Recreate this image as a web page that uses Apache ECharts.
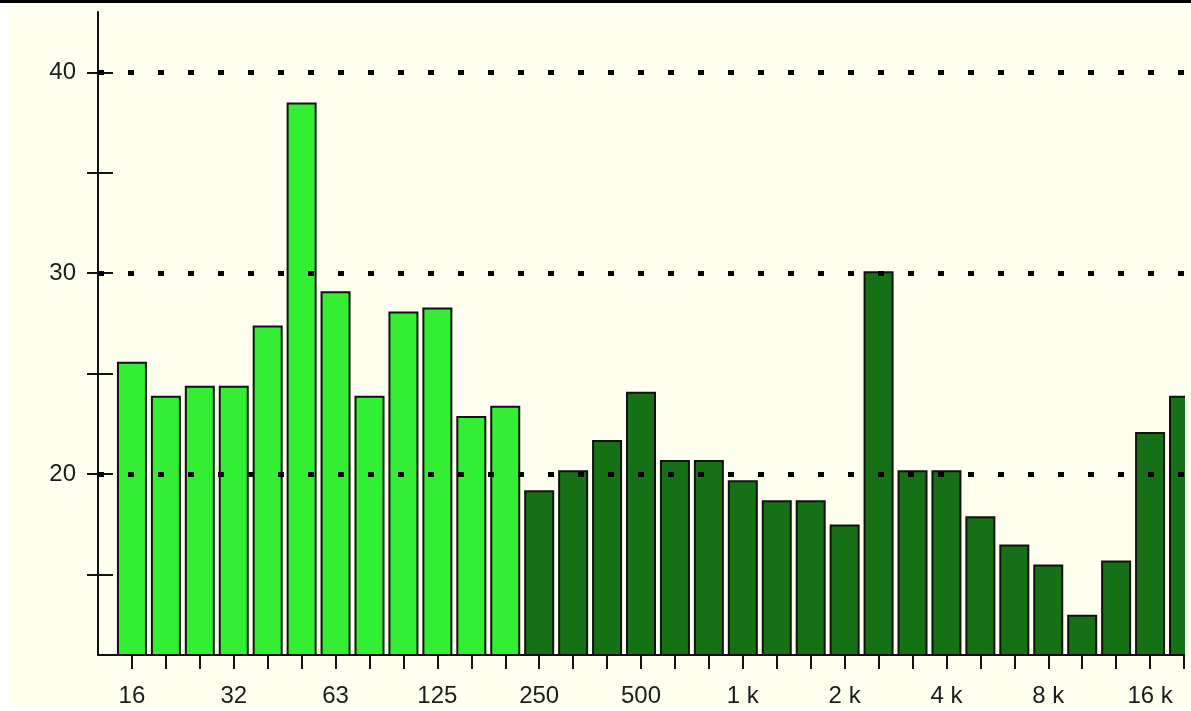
<!DOCTYPE html>
<html>
<head>
<meta charset="utf-8">
<style>
  html, body { margin: 0; padding: 0; }
  body { width: 1191px; height: 711px; position: relative; overflow: hidden; background: #fffff0; }
  /* page frame: black rule on top, white margins at left and bottom */
  .rule-top { position: absolute; left: 0; top: 0; width: 1191px; height: 2.5px; background: #000; z-index: 2; }
  .edge-left { position: absolute; left: 0; top: 0; width: 9px; height: 711px; background: #fff; z-index: 1; }
  .edge-bottom { position: absolute; left: 0; top: 708px; width: 1191px; height: 3px; background: #fff; z-index: 1; }
  /* the plot stops at the last band's centre, so the chart canvas is narrower than the page */
  #chart { position: absolute; left: 0; top: 0; width: 1185px; height: 711px; }
</style>
<script src="https://cdn.jsdelivr.net/npm/echarts@6/dist/echarts.min.js"></script>
</head>
<body>
<div id="chart"></div>
<div class="edge-left"></div>
<div class="edge-bottom"></div>
<div class="rule-top"></div>
<script>
// 1/3-octave band centres, 16 Hz .. 20 kHz
const bands = ['16', '20', '25', '32', '40', '50', '63', '80', '100', '125', '160', '200',
               '250', '315', '400', '500', '630', '800', '1 k', '1.25 k', '1.6 k', '2 k', '2.5 k', '3.15 k',
               '4 k', '5 k', '6.3 k', '8 k', '10 k', '12.5 k', '16 k', '20 k'];

// band levels
const levels = [25.6, 23.9, 24.4, 24.4, 27.4, 38.5, 29.1, 23.9, 28.1, 28.3, 22.9, 23.4,
                19.2, 20.2, 21.7, 24.1, 20.7, 20.7, 19.7, 18.7, 18.7, 17.5, 30.1, 20.2,
                20.2, 17.9, 16.5, 15.5, 13.0, 15.7, 22.1, 23.9];

// octave labels along the frequency axis (every third band)
const tickLabels = ['16', '32', '63', '125', '250', '500', '1 k', '2 k', '4 k', '8 k', '16 k'];

// level axis
const yMin = 11, yMax = 43;
const yLabelValues = [20, 30, 40];
const yTickValues = [15, 20, 25, 30, 35, 40];
const gridLevels = [20, 30, 40];

// bands below 250 Hz use the light fill
const lowBandCount = 12;

const LABEL_FONT = { fontFamily: 'Liberation Sans, Arial, sans-serif', fontSize: 24, color: '#1c1c1c' };

const bandIdx = bands.map((_, i) => i);
const labelIdx = tickLabels.map((_, k) => k * 3);

const chart = echarts.init(document.getElementById('chart'), null, { renderer: 'canvas' });

chart.setOption({
  animation: false,
  backgroundColor: 'transparent',
  grid: { left: 98, right: 1, top: 12, bottom: 56, containLabel: false },
  xAxis: {
    type: 'value',
    min: -1,
    max: bands.length - 1,
    axisLine: { show: true, lineStyle: { color: '#111', width: 2 } },
    axisTick: { show: true, customValues: bandIdx, length: 14, lineStyle: { color: '#111', width: 2 } },
    axisLabel: Object.assign({
      customValues: labelIdx,
      margin: 29,
      formatter: v => tickLabels[Math.round(v) / 3] || ''
    }, LABEL_FONT),
    splitLine: { show: false }
  },
  yAxis: [
    {
      type: 'value',
      min: yMin,
      max: yMax,
      axisLine: { show: true, onZero: false, lineStyle: { color: '#111', width: 2 } },
      axisTick: { show: true, customValues: yTickValues, length: 11, lineStyle: { color: '#111', width: 2 } },
      axisLabel: Object.assign({ customValues: yLabelValues, margin: 22, padding: [6, 0, 0, 0] }, LABEL_FONT),
      splitLine: { show: false }
    },
    {
      // inward half of the crossing ticks
      type: 'value',
      position: 'left',
      min: yMin,
      max: yMax,
      axisLine: { show: false, onZero: false },
      axisTick: { show: true, inside: true, customValues: yTickValues, length: 15, lineStyle: { color: '#111', width: 2 } },
      axisLabel: { show: false },
      splitLine: { show: false }
    }
  ],
  series: [
    {
      // dotted reference levels, kept behind the bars
      type: 'line',
      data: [],
      z: 1,
      silent: true,
      markLine: {
        silent: true,
        symbol: 'none',
        label: { show: false },
        lineStyle: { color: '#000', width: 5, type: [6, 24], opacity: 1 },
        data: gridLevels.map(v => ({ yAxis: v }))
      }
    },
    {
      type: 'bar',
      z: 2,
      barWidth: 30,
      data: levels.map((v, i) => [i, v]),
      itemStyle: {
        color: p => (p.dataIndex < lowBandCount ? '#33ee33' : '#167016'),
        borderColor: '#111',
        borderWidth: 2
      }
    }
  ]
});
</script>
</body>
</html>
